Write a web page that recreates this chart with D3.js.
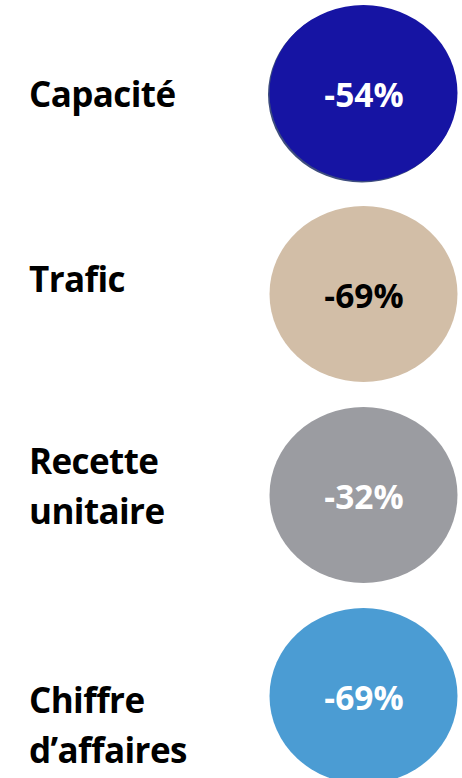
<!DOCTYPE html>
<html>
<head>
<meta charset="utf-8">
<script src="https://cdn.jsdelivr.net/npm/d3@7"></script>
<style>
  html, body { margin: 0; padding: 0; background: #ffffff; }
  svg { display: block; }
</style>
</head>
<body>
<svg id="chart" width="462" height="778"></svg>
<script>
// Year-on-year change by indicator
const categories = ["Capacité", "Trafic", "Recette unitaire", "Chiffre d’affaires"];
const labelLines = [["Capacité"], ["Trafic"], ["Recette", "unitaire"], ["Chiffre", "d’affaires"]];
const changes = [-54, -69, -32, -69];

// Presentation
const fills = ["#1614a3", "#d2bea7", "#9b9ca1", "#4b9cd3"];
const textFills = ["#ffffff", "#000000", "#ffffff", "#ffffff"];
const labelShift = [14, -2, -21, 17];   // first-line baseline relative to bubble centre
const lineGap = 50;

const cx = 363.5, rx = 94, ry = 88;

const y = d3.scalePoint().domain(categories).range([93, 696]);
const locale = d3.formatLocale({ decimal: ",", thousands: " ", grouping: [3], currency: ["", " €"], minus: "-" });
const fmt = d => locale.format("d")(d) + "%";

const svg = d3.select("#chart");

const rows = svg.selectAll("g.row")
  .data(categories.map((c, i) => ({ c, i, v: changes[i] })))
  .join("g")
  .attr("class", "row");

// subtle edge shadow on the first bubble
rows.filter(d => d.i === 0)
  .append("ellipse")
  .attr("cx", cx - 1.5)
  .attr("cy", d => y(d.c) + 1.5)
  .attr("rx", rx)
  .attr("ry", ry)
  .attr("fill", "#3d4c7e");

rows.append("ellipse")
  .attr("cx", cx)
  .attr("cy", d => y(d.c))
  .attr("rx", rx)
  .attr("ry", ry)
  .attr("fill", d => fills[d.i]);

rows.append("text")
  .attr("x", cx + 0.5)
  .attr("y", d => y(d.c) + 13.5)
  .attr("text-anchor", "middle")
  .attr("font-family", "'Open Sans', sans-serif")
  .attr("font-weight", 700)
  .attr("font-size", 33.5)
  .attr("fill", d => textFills[d.i])
  .text(d => fmt(d.v));

// category labels on the left
rows.each(function (d) {
  const g = d3.select(this);
  const t = g.append("text")
    .attr("x", 29)
    .attr("font-family", "'Open Sans', sans-serif")
    .attr("font-weight", 700)
    .attr("font-size", 35)
    .attr("letter-spacing", -0.6)
    .attr("fill", "#000000");
  labelLines[d.i].forEach((line, k) => {
    t.append("tspan")
      .attr("x", 29)
      .attr("y", y(d.c) + labelShift[d.i] + k * lineGap)
      .text(line);
  });
});
</script>
</body>
</html>
